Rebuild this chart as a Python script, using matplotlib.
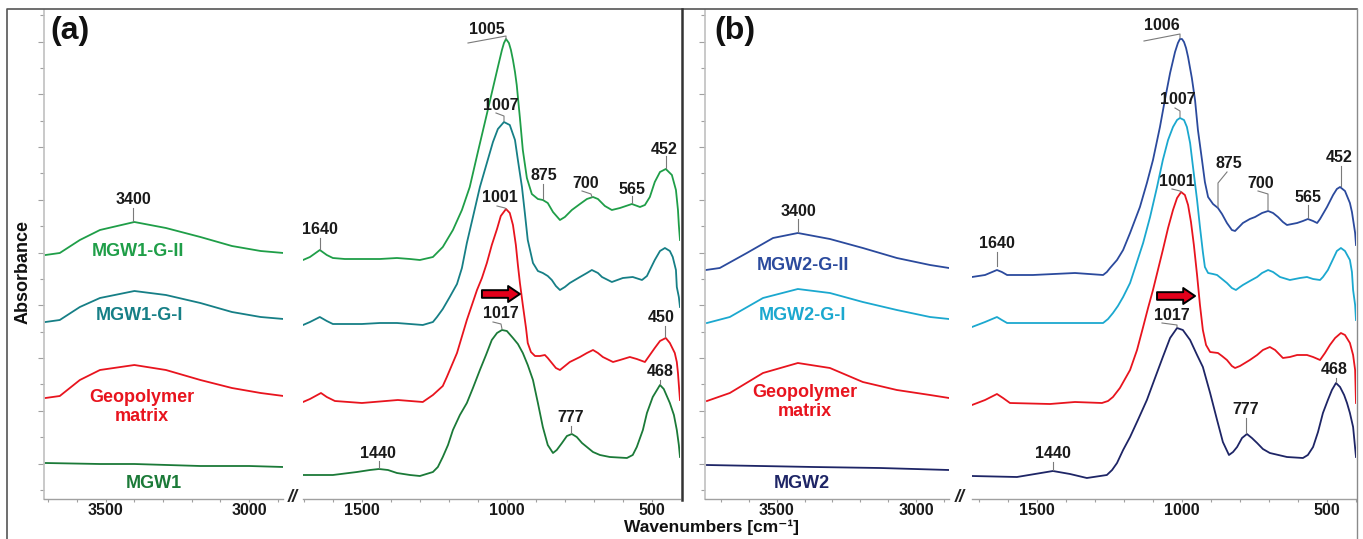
import numpy as np
import matplotlib
matplotlib.use("Agg")
import matplotlib.pyplot as plt
from matplotlib.lines import Line2D
from matplotlib.ticker import FixedLocator, NullFormatter

# ---------------- DATA (wavenumber cm-1, absorbance a.u., offset stacked) ----------------
# Panel (a)
a_gii_hi_wn = [3710, 3660, 3590, 3520, 3400, 3290, 3170, 3060, 2960, 2880]
a_gii_hi_ab = [2.44, 2.46, 2.59, 2.69, 2.77, 2.71, 2.62, 2.53, 2.48, 2.46]
a_gii_lo_wn = [1703, 1679, 1645, 1621, 1600, 1559, 1500, 1438, 1379, 1334, 1300, 1255, 1221, 1186,
               1155, 1128, 1100, 1069, 1048, 1031, 1017, 1010, 1003, 993, 986, 979, 972, 966, 955,
               945, 931, 914, 893, 876, 859, 841, 817, 800, 776, 748, 724, 703, 686, 662, 638,
               610, 569, 541, 524, 507, 490, 472, 452, 431, 417, 410, 407, 403]
a_gii_lo_ab = [2.39, 2.42, 2.49, 2.44, 2.41, 2.40, 2.40, 2.40, 2.41, 2.40, 2.39, 2.42, 2.52, 2.69,
               2.89, 3.12, 3.47, 3.85, 4.11, 4.32, 4.49, 4.56, 4.60, 4.56, 4.49, 4.39, 4.27, 4.14,
               3.81, 3.49, 3.21, 3.05, 3.00, 2.99, 2.96, 2.87, 2.79, 2.82, 2.89, 2.95, 3.00, 3.02,
               3.00, 2.93, 2.89, 2.91, 2.95, 2.92, 2.94, 3.02, 3.17, 3.27, 3.30, 3.24, 3.09, 2.89,
               2.74, 2.59]

a_gi_hi_wn = [3710, 3660, 3590, 3520, 3400, 3290, 3170, 3060, 2960, 2880]
a_gi_hi_ab = [1.77, 1.79, 1.92, 2.01, 2.08, 2.04, 1.96, 1.87, 1.82, 1.80]
a_gi_lo_wn = [1703, 1679, 1645, 1621, 1600, 1559, 1500, 1438, 1379, 1334, 1290, 1255, 1241, 1221,
              1197, 1172, 1155, 1138, 1117, 1093, 1069, 1048, 1031, 1010, 990, 972, 962, 948,
              938, 928, 910, 893, 876, 859, 845, 831, 817, 800, 783, 748, 724, 707, 686, 672,
              638, 600, 566, 534, 517, 507, 490, 472, 455, 438, 428, 417, 414, 407, 403]
a_gi_lo_ab = [1.74, 1.77, 1.82, 1.78, 1.75, 1.75, 1.75, 1.76, 1.76, 1.75, 1.74, 1.77, 1.82, 1.90,
              2.02, 2.15, 2.31, 2.56, 2.82, 3.12, 3.36, 3.57, 3.70, 3.77, 3.74, 3.59, 3.39, 3.12,
              2.86, 2.59, 2.36, 2.28, 2.26, 2.23, 2.19, 2.13, 2.09, 2.12, 2.16, 2.22, 2.26, 2.29,
              2.26, 2.22, 2.17, 2.21, 2.22, 2.19, 2.23, 2.29, 2.39, 2.48, 2.51, 2.48, 2.42, 2.29,
              2.12, 2.02, 1.92]

a_gm_hi_wn = [3710, 3660, 3590, 3520, 3400, 3290, 3170, 3060, 2960, 2880]
a_gm_hi_ab = [1.01, 1.03, 1.19, 1.29, 1.34, 1.29, 1.19, 1.11, 1.06, 1.03]
a_gm_lo_wn = [1703, 1679, 1641, 1621, 1593, 1500, 1376, 1290, 1255, 1221, 1207, 1172, 1138, 1103,
              1086, 1069, 1052, 1034, 1021, 1003, 990, 979, 969, 962, 955, 945, 934, 928, 917,
              903, 886, 869, 859, 845, 831, 817, 800, 783, 748, 724, 703, 686, 669, 634, 610,
              576, 552, 524, 507, 490, 472, 452, 438, 421, 414, 410, 407, 403]
a_gm_lo_ab = [0.97, 1.00, 1.06, 1.02, 0.98, 0.96, 0.99, 0.97, 1.04, 1.13, 1.22, 1.46, 1.79, 2.09,
              2.21, 2.36, 2.54, 2.70, 2.83, 2.90, 2.86, 2.74, 2.54, 2.34, 2.16, 1.94, 1.71, 1.56,
              1.47, 1.43, 1.43, 1.44, 1.41, 1.36, 1.31, 1.29, 1.33, 1.37, 1.42, 1.46, 1.49, 1.46,
              1.42, 1.37, 1.39, 1.42, 1.40, 1.37, 1.44, 1.51, 1.58, 1.61, 1.56, 1.46, 1.37, 1.26,
              1.14, 0.99]

a_w_hi_wn = [3710, 3520, 3400, 3170, 3000, 2880]
a_w_hi_ab = [0.36, 0.35, 0.35, 0.33, 0.33, 0.32]
a_w_lo_wn = [1703, 1600, 1517, 1472, 1441, 1410, 1379, 1334, 1300, 1255, 1238, 1221, 1203, 1186,
             1162, 1138, 1117, 1093, 1072, 1052, 1034, 1017, 1000, 979, 962, 945, 928, 910, 893,
             876, 859, 841, 828, 810, 793, 776, 759, 741, 703, 679, 645, 586, 566, 552, 531,
             517, 497, 472, 459, 438, 424, 414, 407, 403]
a_w_lo_ab = [0.24, 0.24, 0.27, 0.29, 0.30, 0.29, 0.26, 0.24, 0.23, 0.27, 0.32, 0.42, 0.54, 0.69,
             0.84, 0.96, 1.11, 1.29, 1.44, 1.59, 1.66, 1.69, 1.68, 1.61, 1.55, 1.46, 1.34, 1.19,
             0.96, 0.72, 0.54, 0.46, 0.49, 0.56, 0.63, 0.65, 0.62, 0.56, 0.47, 0.44, 0.42, 0.41,
             0.44, 0.52, 0.69, 0.86, 1.02, 1.14, 1.10, 0.96, 0.84, 0.69, 0.54, 0.42]

# Panel (b)
b_gii_hi_wn = [3754, 3704, 3607, 3513, 3424, 3309, 3191, 3069, 2950, 2882]
b_gii_hi_ab = [2.29, 2.31, 2.46, 2.61, 2.66, 2.60, 2.51, 2.41, 2.34, 2.31]
b_gii_lo_wn = [1724, 1679, 1638, 1621, 1603, 1514, 1369, 1272, 1259, 1248, 1224, 1203, 1179, 1145,
               1121, 1100, 1076, 1059, 1041, 1024, 1014, 1007, 1000, 993, 986, 979, 966, 955,
               945, 931, 921, 910, 893, 876, 862, 845, 828, 817, 800, 790, 766, 748, 724, 703,
               686, 669, 652, 638, 603, 583, 566, 548, 534, 524, 500, 479, 466, 455, 438, 421,
               414, 403, 400]
b_gii_lo_ab = [2.22, 2.24, 2.29, 2.27, 2.24, 2.24, 2.26, 2.24, 2.27, 2.31, 2.39, 2.49, 2.66, 2.92,
               3.16, 3.39, 3.72, 3.99, 4.26, 4.47, 4.56, 4.60, 4.60, 4.57, 4.51, 4.42, 4.21, 3.99,
               3.69, 3.39, 3.17, 3.02, 2.95, 2.91, 2.85, 2.76, 2.69, 2.68, 2.73, 2.76, 2.80, 2.82,
               2.86, 2.88, 2.86, 2.82, 2.77, 2.74, 2.76, 2.78, 2.80, 2.78, 2.76, 2.80, 2.92, 3.04,
               3.10, 3.12, 3.08, 2.96, 2.87, 2.66, 2.54]

b_gi_hi_wn = [3750, 3668, 3549, 3424, 3309, 3191, 3069, 2950, 2882]
b_gi_hi_ab = [1.76, 1.82, 2.01, 2.10, 2.06, 1.97, 1.89, 1.82, 1.80]
b_gi_lo_wn = [1724, 1679, 1638, 1621, 1603, 1455, 1376, 1272, 1255, 1238, 1221, 1203, 1179, 1162,
              1134, 1110, 1086, 1066, 1048, 1031, 1017, 1007, 993, 983, 972, 962, 948, 938, 928,
              921, 910, 893, 879, 862, 845, 828, 814, 800, 790, 766, 741, 724, 703, 686, 662,
              628, 593, 569, 548, 524, 514, 497, 479, 466, 452, 438, 421, 414, 410, 403, 400]
b_gi_lo_ab = [1.72, 1.77, 1.82, 1.79, 1.76, 1.76, 1.76, 1.76, 1.80, 1.86, 1.93, 2.02, 2.16, 2.31,
              2.56, 2.82, 3.12, 3.39, 3.59, 3.72, 3.79, 3.81, 3.79, 3.72, 3.56, 3.32, 2.99, 2.72,
              2.47, 2.32, 2.26, 2.25, 2.24, 2.20, 2.16, 2.11, 2.09, 2.12, 2.14, 2.18, 2.22, 2.26,
              2.29, 2.27, 2.22, 2.19, 2.21, 2.22, 2.20, 2.19, 2.22, 2.29, 2.40, 2.48, 2.51, 2.48,
              2.39, 2.27, 2.09, 1.94, 1.79]

b_gm_hi_wn = [3750, 3668, 3549, 3424, 3309, 3191, 3069, 2950, 2882]
b_gm_hi_ab = [0.98, 1.06, 1.26, 1.36, 1.31, 1.17, 1.09, 1.04, 1.01]
b_gm_lo_wn = [1724, 1679, 1638, 1617, 1593, 1455, 1369, 1276, 1255, 1238, 1214, 1179, 1155, 1134,
              1117, 1100, 1083, 1066, 1048, 1031, 1017, 1003, 990, 979, 969, 959, 948, 938, 928,
              917, 903, 876, 862, 845, 828, 817, 800, 783, 766, 741, 721, 697, 679, 652, 628,
              603, 569, 548, 524, 507, 490, 472, 452, 438, 421, 410, 403, 400]
b_gm_lo_ab = [0.94, 0.99, 1.05, 1.01, 0.96, 0.95, 0.97, 0.96, 0.98, 1.02, 1.11, 1.29, 1.49, 1.72,
              1.91, 2.09, 2.29, 2.49, 2.71, 2.89, 3.01, 3.07, 3.04, 2.94, 2.77, 2.54, 2.24, 1.94,
              1.69, 1.54, 1.47, 1.46, 1.43, 1.39, 1.33, 1.31, 1.33, 1.36, 1.39, 1.44, 1.49, 1.52,
              1.49, 1.41, 1.42, 1.44, 1.44, 1.42, 1.39, 1.46, 1.54, 1.61, 1.66, 1.64, 1.56, 1.44,
              1.29, 0.96]

b_w_hi_wn = [3750, 3368, 3129, 2882]
b_w_hi_ab = [0.34, 0.32, 0.31, 0.29]
b_w_lo_wn = [1724, 1569, 1507, 1445, 1386, 1328, 1259, 1241, 1224, 1203, 1179, 1152, 1121, 1093,
             1066, 1041, 1017, 997, 972, 948, 928, 903, 879, 859, 838, 824, 810, 793, 776, 759,
             741, 721, 697, 638, 583, 566, 548, 531, 514, 497, 483, 469, 455, 441, 431, 421, 410,
             400]
b_w_lo_ab = [0.23, 0.22, 0.25, 0.28, 0.25, 0.21, 0.24, 0.29, 0.36, 0.49, 0.62, 0.79, 0.99, 1.21,
             1.42, 1.61, 1.71, 1.69, 1.59, 1.44, 1.32, 1.06, 0.79, 0.57, 0.44, 0.47, 0.52, 0.61,
             0.65, 0.61, 0.56, 0.50, 0.46, 0.42, 0.41, 0.44, 0.52, 0.67, 0.86, 0.99, 1.09, 1.16,
             1.12, 1.04, 0.96, 0.86, 0.72, 0.42]

sample_names_a = ["MGW1-G-II", "MGW1-G-I", "Geopolymer\nmatrix", "MGW1"]
sample_names_b = ["MGW2-G-II", "MGW2-G-I", "Geopolymer\nmatrix", "MGW2"]
hi_ticklabels = [3500, 3000]
lo_ticklabels = [1500, 1000, 500]

# ---------------- STYLE / LAYOUT ----------------
W, H = 1363, 539
FONT = ["Liberation Sans", "DejaVu Sans"]
plt.rcParams["font.family"] = FONT
plt.rcParams["font.weight"] = "bold"

cols_a = ["#1f9e48", "#167f86", "#e8141e", "#1b7a38"]
cols_b = ["#2b4a9d", "#1ba8cf", "#e8141e", "#1e2566"]
LW = 1.3
AXC = "#a0a0a0"
YMAX = 4.89

fig = plt.figure(figsize=(W / 100, H / 100), dpi=100)


def make_ax(x0, x1, xlim, yaxis):
    ax = fig.add_axes([x0 / W, 40 / H, (x1 - x0) / W, 489 / H])
    ax.set_facecolor("none")
    ax.set_xlim(*xlim)
    ax.set_ylim(0, YMAX)
    for s in ("top", "right"):
        ax.spines[s].set_visible(False)
    ax.spines["bottom"].set_color(AXC)
    ax.spines["bottom"].set_linewidth(1.0)
    if yaxis:
        ax.spines["left"].set_color("#c0c0c0")
        ax.spines["left"].set_linewidth(1.2)
        yt = 0.09 + 0.2638 * np.arange(19)
        ax.yaxis.set_major_locator(FixedLocator(yt[1::2]))
        ax.yaxis.set_minor_locator(FixedLocator(yt[0::2]))
        ax.yaxis.set_major_formatter(NullFormatter())
        ax.tick_params(axis="y", which="major", length=4, color=AXC, width=0.8)
        ax.tick_params(axis="y", which="minor", length=3, color=AXC, width=0.8)
    else:
        ax.spines["left"].set_visible(False)
        ax.set_yticks([])
    lo, hi = sorted(xlim)
    minors = [v for v in range(100, 4000, 100) if lo <= v <= hi]
    ax.xaxis.set_minor_locator(FixedLocator(minors))
    ax.tick_params(axis="x", which="both", length=2.5, color=AXC, width=0.8,
                   direction="out", labelsize=11.5, pad=0.5, labelcolor="#1a1a1a")
    return ax


ax_a_hi = make_ax(44, 283, (3715, 2882), True)
ax_a_lo = make_ax(303, 680, (1703, 403), False)
ax_b_hi = make_ax(705, 949, (3757, 2882), True)
ax_b_lo = make_ax(972, 1356, (1724, 400), False)

for ax in (ax_a_hi, ax_b_hi):
    ax.set_xticks(hi_ticklabels)
    ax.set_xticklabels([str(v) for v in hi_ticklabels], fontweight="bold")
for ax in (ax_a_lo, ax_b_lo):
    ax.set_xticks(lo_ticklabels)
    ax.set_xticklabels([str(v) for v in lo_ticklabels], fontweight="bold")

series_a = [(a_gii_hi_wn, a_gii_hi_ab, a_gii_lo_wn, a_gii_lo_ab),
            (a_gi_hi_wn, a_gi_hi_ab, a_gi_lo_wn, a_gi_lo_ab),
            (a_gm_hi_wn, a_gm_hi_ab, a_gm_lo_wn, a_gm_lo_ab),
            (a_w_hi_wn, a_w_hi_ab, a_w_lo_wn, a_w_lo_ab)]
series_b = [(b_gii_hi_wn, b_gii_hi_ab, b_gii_lo_wn, b_gii_lo_ab),
            (b_gi_hi_wn, b_gi_hi_ab, b_gi_lo_wn, b_gi_lo_ab),
            (b_gm_hi_wn, b_gm_hi_ab, b_gm_lo_wn, b_gm_lo_ab),
            (b_w_hi_wn, b_w_hi_ab, b_w_lo_wn, b_w_lo_ab)]

for (hw, ha, lw_, la), c in zip(series_a, cols_a):
    ax_a_hi.plot(hw, ha, color=c, lw=LW, solid_joinstyle="round")
    ax_a_lo.plot(lw_, la, color=c, lw=LW, solid_joinstyle="round")
for (hw, ha, lw_, la), c in zip(series_b, cols_b):
    ax_b_hi.plot(hw, ha, color=c, lw=LW, solid_joinstyle="round")
    ax_b_lo.plot(lw_, la, color=c, lw=LW, solid_joinstyle="round")


def P(x, y):
    return x / W, 1 - y / H


def ftext(x, y, s, **kw):
    fig.text(*P(x, y), s, ha="center", va="center", **kw)


def fline(pts, **kw):
    xs = [p[0] / W for p in pts]
    ys = [1 - p[1] / H for p in pts]
    fig.add_artist(Line2D(xs, ys, transform=fig.transFigure, **kw))


# sample labels
lab_pos_a = [(138, 251), (139, 315), (142, 407), (154, 483)]
lab_pos_b = [(803, 265), (802, 315), (805, 402), (802, 484)]
for name, (x, y), c in zip(sample_names_a, lab_pos_a, cols_a):
    ftext(x, y, name, color=c, fontsize=13, fontweight="bold", linespacing=1.1)
for name, (x, y), c in zip(sample_names_b, lab_pos_b, cols_b):
    ftext(x, y, name, color=c, fontsize=13, fontweight="bold", linespacing=1.1)

# peak annotations: text, label centre, leader polyline (figure pixels)
peaks = [
    ("3400", (133, 200), [(133, 208), (133, 221)]),
    ("1640", (320, 230), [(320, 238), (320, 249)]),
    ("1005", (487, 29), [(468, 43), (506, 36), (506, 39)]),
    ("1007", (501, 106), [(496, 113), (504, 116), (504, 121)]),
    ("875", (544, 176), [(543, 184), (543, 199)]),
    ("700", (586, 184), [(582, 191), (591, 194), (592, 197)]),
    ("565", (632, 189), [(632, 196), (632, 203)]),
    ("452", (664, 149), [(666, 156), (666, 168)]),
    ("1001", (500, 198), [(497, 206), (505, 208), (506, 209)]),
    ("1017", (501, 314), [(493, 322), (501, 324), (502, 329)]),
    ("450", (661, 318), [(665, 326), (665, 337)]),
    ("468", (660, 372), [(660, 380), (660, 384)]),
    ("777", (571, 418), [(571, 426), (571, 433)]),
    ("1440", (378, 453), [(379, 461), (379, 468)]),
    ("3400", (798, 211), [(798, 219), (798, 232)]),
    ("1640", (997, 244), [(997, 252), (997, 266)]),
    ("1006", (1162, 26), [(1144, 41), (1180, 34), (1180, 38)]),
    ("1007", (1178, 100), [(1175, 108), (1180, 111), (1180, 117)]),
    ("875", (1229, 163), [(1227, 172), (1218, 183), (1218, 207)]),
    ("700", (1261, 184), [(1258, 191), (1268, 194), (1268, 210)]),
    ("565", (1308, 197), [(1308, 205), (1308, 218)]),
    ("452", (1339, 158), [(1341, 166), (1341, 186)]),
    ("1001", (1177, 182), [(1172, 189), (1180, 191), (1181, 192)]),
    ("1017", (1172, 315), [(1162, 323), (1177, 325), (1177, 327)]),
    ("468", (1334, 370), [(1336, 378), (1336, 382)]),
    ("777", (1246, 410), [(1246, 418), (1246, 433)]),
    ("1440", (1053, 454), [(1053, 462), (1053, 470)]),
]
for s, (x, y), lead in peaks:
    ftext(x, y, s, color="#1a1a1a", fontsize=11.5, fontweight="bold")
    fline(lead, color="#7a7a7a", lw=0.8)

# red arrows (shift of main band)
for ax, y in ((ax_a_lo, 2.05), (ax_b_lo, 2.03)):
    ax.annotate("", xy=(955, y), xytext=(1086, y),
                arrowprops=dict(arrowstyle="simple,head_width=1.15,head_length=0.85,tail_width=0.55",
                                fc="#e3001b", ec="black", lw=1.4, shrinkA=0, shrinkB=0))

# panel letters, axis titles, breaks
ftext(70, 31, "(a)", fontsize=23, fontweight="bold", color="#111111")
ftext(735, 31, "(b)", fontsize=23, fontweight="bold", color="#111111")
fig.text(*P(23, 272), "Absorbance", rotation=90, ha="center", va="center",
         fontsize=13, fontweight="bold", color="#111111")
ftext(711, 527, "Wavenumbers [cm⁻¹]", fontsize=12.5, fontweight="bold", color="#111111")
ftext(293, 498, "//", fontsize=13, fontweight="bold", color="#222222", style="italic")
ftext(960, 498, "//", fontsize=13, fontweight="bold", color="#222222", style="italic")

# frame lines
fline([(7, 539), (7, 9), (1357, 9)], color="#555555", lw=1.2)
fline([(1357, 9), (1357, 539)], color="#8a8a8a", lw=1.0)
fline([(682, 9), (682, 500)], color="#333333", lw=1.8)

fig.savefig("out.png", dpi=100)
